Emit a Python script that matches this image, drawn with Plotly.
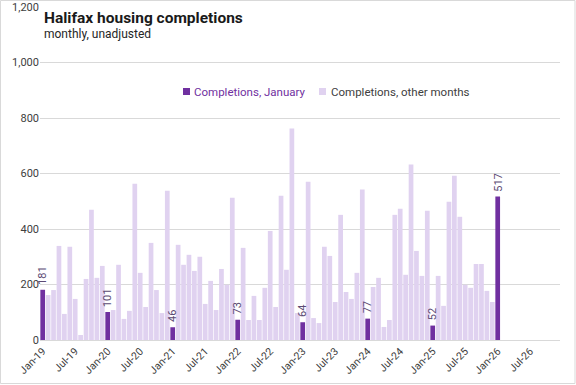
import plotly.graph_objects as go

# Month categories Jan-19 .. Dec-26
month_names = ["Jan", "Feb", "Mar", "Apr", "May", "Jun", "Jul", "Aug", "Sep", "Oct", "Nov", "Dec"]
years = [19, 20, 21, 22, 23, 24, 25, 26]
categories = [f"{m}-{y}" for y in years for m in month_names]

# Completions (Jan-19 .. Jan-26)
completions = [
    181, 162, 180, 339, 94, 336, 148, 18, 220, 469, 224, 267,   # 2019
    101, 108, 271, 76, 105, 563, 242, 119, 350, 180, 97, 538,   # 2020
    46, 343, 271, 307, 249, 300, 130, 213, 108, 256, 199, 513,  # 2021
    73, 332, 72, 159, 72, 188, 393, 119, 520, 253, 762, 97,     # 2022
    64, 570, 79, 61, 336, 303, 137, 451, 173, 148, 242, 542,    # 2023
    77, 191, 224, 47, 72, 451, 473, 235, 632, 321, 231, 466,    # 2024
    52, 231, 123, 498, 592, 444, 199, 188, 274, 274, 177, 137,  # 2025
    517,                                                        # 2026
]

tick_labels = [c for c in categories if c.startswith("Jan") or c.startswith("Jul")]
series_names = ["Completions, January", "Completions, other months"]

jan_x, jan_y, oth_x, oth_y = [], [], [], []
for c, v in zip(categories, completions):
    if c.startswith("Jan"):
        jan_x.append(c); jan_y.append(v)
    else:
        oth_x.append(c); oth_y.append(v)

DARK = "#7030A0"
LIGHT = "#E0D2F0"
FONT = "Roboto"

# pixel helpers for plot area (x 40..560, y 7..340)
def px(x):
    return (x - 40) / 520

def py(y):
    return (340 - y) / 333

fig = go.Figure()
fig.add_trace(go.Bar(x=jan_x, y=jan_y, marker_color=DARK, marker_line_width=0,
                     name=series_names[0], hoverinfo="skip"))
fig.add_trace(go.Bar(x=oth_x, y=oth_y, marker_color=LIGHT, marker_line_width=0,
                     name=series_names[1], hoverinfo="skip"))

annotations = [
    dict(x=c, y=v, xref="x", yref="y", text=str(v), textangle=-90,
         showarrow=False, xanchor="center", yanchor="bottom", yshift=3,
         font=dict(size=11, color="#5B4A73", family=FONT))
    for c, v in zip(jan_x, jan_y)
]
annotations += [
    dict(text="<b>Halifax housing completions</b>", xref="paper", yref="paper",
         x=px(42), y=py(18), xanchor="left", yanchor="middle",
         showarrow=False, font=dict(size=15.5, color="#1a1a1a", family=FONT)),
    dict(text="monthly, unadjusted", xref="paper", yref="paper",
         x=px(42), y=py(34), xanchor="left", yanchor="middle",
         showarrow=False, font=dict(size=12, color="#262626", family=FONT)),
    # custom legend texts
    dict(text=series_names[0], xref="paper", yref="paper", x=px(192), y=py(91.5),
         xanchor="left", yanchor="middle", showarrow=False,
         font=dict(size=11.5, color=DARK, family=FONT)),
    dict(text=series_names[1], xref="paper", yref="paper", x=px(329), y=py(91.5),
         xanchor="left", yanchor="middle", showarrow=False,
         font=dict(size=11.5, color="#404040", family=FONT)),
]

shapes = [
    dict(type="rect", xref="paper", yref="paper",
         x0=px(0.5), x1=px(575), y0=py(383.5), y1=py(0.5),
         line=dict(color="#D9D9D9", width=1), fillcolor="rgba(0,0,0,0)", layer="below"),
    # legend markers
    dict(type="rect", xref="paper", yref="paper", x0=px(183), x1=px(190), y0=py(95), y1=py(88),
         line=dict(width=0), fillcolor=DARK),
    dict(type="rect", xref="paper", yref="paper", x0=px(319), x1=px(326), y0=py(95), y1=py(88),
         line=dict(width=0), fillcolor=LIGHT),
]

fig.update_layout(
    width=576, height=385,
    margin=dict(l=40, r=16, t=7, b=45, autoexpand=False),
    barmode="overlay", bargap=0.13,
    plot_bgcolor="white", paper_bgcolor="white",
    font=dict(family=FONT, size=11, color="#404040"),
    showlegend=False,
    xaxis=dict(type="category", categoryorder="array", categoryarray=categories,
               range=[-0.5, len(categories) - 0.5], automargin=False,
               tickmode="array", tickvals=tick_labels, ticktext=tick_labels,
               tickangle=-45, tickfont=dict(size=10.5, color="#404040"),
               showgrid=False, showline=True, linecolor="#D9D9D9", linewidth=1,
               ticks=""),
    yaxis=dict(range=[0, 1200], dtick=200, tickformat=",", showgrid=True, automargin=False,
               gridcolor="#D9D9D9", gridwidth=1, zeroline=False, showline=False,
               tickfont=dict(size=11, color="#404040"), ticks="", ticklen=0),
    annotations=annotations,
    shapes=shapes,
)

fig.write_html("out.html", config={"displayModeBar": False, "staticPlot": True},
               post_script="document.body.style.margin='0';document.body.style.padding='0';"
                           "document.body.style.overflow='hidden';")
